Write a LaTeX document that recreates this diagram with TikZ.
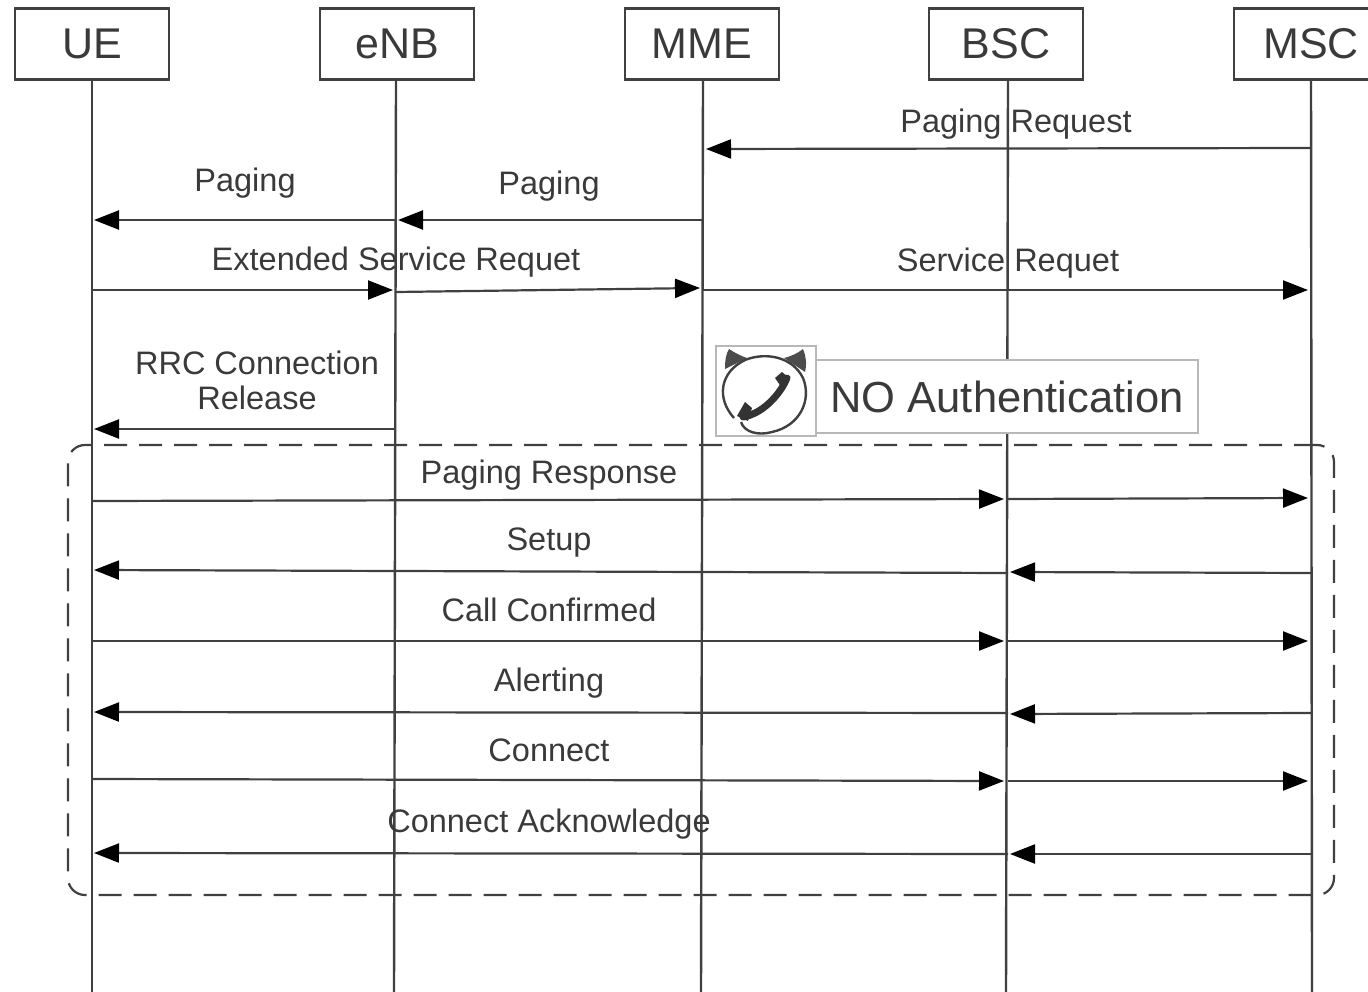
\documentclass[tikz,border=0pt]{standalone}
\usepackage{fontspec}
\setmainfont{Liberation Sans}
\usetikzlibrary{arrows.meta}
\definecolor{ink}{HTML}{3A3A3A}
\definecolor{linec}{HTML}{404040}
\tikzset{
  actor/.style={draw=linec,line width=2.4pt,fill=white,minimum width=154pt,minimum height=71pt,inner sep=0pt,font=\fontsize{43}{44}\selectfont,text=ink},
  life/.style={draw=linec,line width=2.4pt},
  msg/.style={draw=linec,line width=2.2pt,-{Triangle[length=25pt,width=19pt,color=black]}},
  lbl/.style={font=\fontsize{32.5}{35}\selectfont,text=ink,inner sep=0pt,align=center},
  frame/.style={draw=linec,line width=2.2pt,dash pattern=on 23pt off 12pt,rounded corners=17pt},
  notebox/.style={draw=black!28,line width=1.6pt,fill=white,inner sep=0pt}
}
\begin{document}
\begin{tikzpicture}[x=1pt,y=-1pt]
\useasboundingbox (0,0) rectangle (1368,992);
% lifeline feet
\coordinate (fUE) at (92,992);
\coordinate (feNB) at (394,992);
\coordinate (fMME) at (701,992);
\coordinate (fBSC) at (1006,992);
\coordinate (fMSC) at (1312,992);
% actors
\node[actor] (UE) at (92,44) {\raisebox{-1pt}{UE}};
\node[actor] (eNB) at (397,44) {\raisebox{-1pt}{eNB}};
\node[actor] (MME) at (702,44) {\raisebox{-1pt}{MME}};
\node[actor] (BSC) at (1006,44) {\raisebox{-1pt}{BSC}};
\node[actor] (MSC) at (1311,44) {\raisebox{-1pt}{MSC}};
\draw[life] (UE.south) -- (fUE);
\draw[life] (396,80) -- (feNB);
\draw[life] (703,80) -- (fMME);
\draw[life] (1008,80) -- (fBSC);
\draw[life] (1311,80) -- (fMSC);
% endpoints
\coordinate (a1) at (1311,148); \coordinate (a2) at (706,149);
\coordinate (b1) at (703,220); \coordinate (b2) at (398,220);
\coordinate (b3) at (396,220); \coordinate (b4) at (94,220);
\coordinate (c1) at (92,290); \coordinate (c2) at (393,290);
\coordinate (c3) at (396,292); \coordinate (c4) at (700,288);
\coordinate (c5) at (703,290); \coordinate (c6) at (1308,290);
\coordinate (d1) at (396,429); \coordinate (d2) at (94,429);
\draw[msg] (a1) -- (a2);
\draw[msg] (b1) -- (b2);
\draw[msg] (b3) -- (b4);
\draw[msg] (c1) -- (c2);
\draw[msg] (c3) -- (c4);
\draw[msg] (c5) -- (c6);
\draw[msg] (d1) -- (d2);
% frame
\node[frame,minimum width=1266pt,minimum height=450pt,inner sep=0pt] (fr) at (701,670) {};
% group messages
\coordinate (e1) at (92,501); \coordinate (e2) at (1004,499);
\coordinate (e3) at (1008,499); \coordinate (e4) at (1308,498);
\coordinate (f1) at (1311,573); \coordinate (f2) at (1010,572);
\coordinate (f3) at (1008,573); \coordinate (f4) at (94,570);
\coordinate (g1) at (92,641); \coordinate (g2) at (1004,641);
\coordinate (g3) at (1008,641); \coordinate (g4) at (1308,641);
\coordinate (h1) at (1311,713); \coordinate (h2) at (1010,714);
\coordinate (h3) at (1008,713); \coordinate (h4) at (94,712);
\coordinate (i1) at (92,779); \coordinate (i2) at (1004,781);
\coordinate (i3) at (1008,781); \coordinate (i4) at (1308,781);
\coordinate (j1) at (1311,854); \coordinate (j2) at (1010,854);
\coordinate (j3) at (1008,854); \coordinate (j4) at (94,853);
\foreach \s/\t in {e1/e2,e3/e4,f1/f2,f3/f4,g1/g2,g3/g4,h1/h2,h3/h4,i1/i2,i3/i4,j1/j2,j3/j4}
  \draw[msg] (\s) -- (\t);
% labels
\node[lbl] (l1) at (1016,124.5) {Paging Request};
\node[lbl] (l2) at (245,183.5) {Paging};
\node[lbl] (l3) at (549,186.5) {Paging};
\node[lbl] (l4) at (396,262.5) {Extended Service Requet};
\node[lbl] (l5) at (1008,263.5) {Service Requet};
\node[lbl] (l6) at (257,380) {RRC Connection\\Release};
\node[lbl] (l7) at (549,475) {Paging Response};
\node[lbl] (l8) at (549,543) {Setup};
\node[lbl] (l9) at (549,609.5) {Call Confirmed};
\node[lbl] (l10) at (549,683) {Alerting};
\node[lbl] (l11) at (549,750) {Connect};
\node[lbl] (l12) at (549,824) {Connect Acknowledge};
% note
\node[notebox,minimum width=382pt,minimum height=73pt,font=\fontsize{43.5}{44}\selectfont,text=ink] (note) at (1007,396.5) {NO Authentication};
\node[notebox,minimum width=100pt,minimum height=90pt] (icon) at (766,391) {};
% icon
\fill[black!70] (725,369) .. controls (725,360) and (726,354) .. (729,349) .. controls (735,353) and (741,356) .. (747,358) -- cycle;
\fill[black!70] (784,358) .. controls (792,356) and (798,353) .. (803,349) .. controls (806,356) and (807,364) .. (805,372) -- cycle;
\draw[black!75,line width=2.4pt] (734,418) .. controls (716,398) and (720,372) .. (745,360) .. controls (765,352) and (792,356) .. (803,378) .. controls (812,400) and (800,426) .. (772,432) .. controls (758,436) and (744,432) .. (741,422);
\draw[black!80,line width=7pt,line cap=round] (743,417) .. controls (762,414) and (780,395) .. (787,378);
\fill[black!80] (737,416) -- (745,402) -- (752,408) -- (748,421) -- cycle;
\fill[black!80] (775,378) -- (782,372) -- (789,378) -- (782,388) -- cycle;
\end{tikzpicture}
\end{document}
